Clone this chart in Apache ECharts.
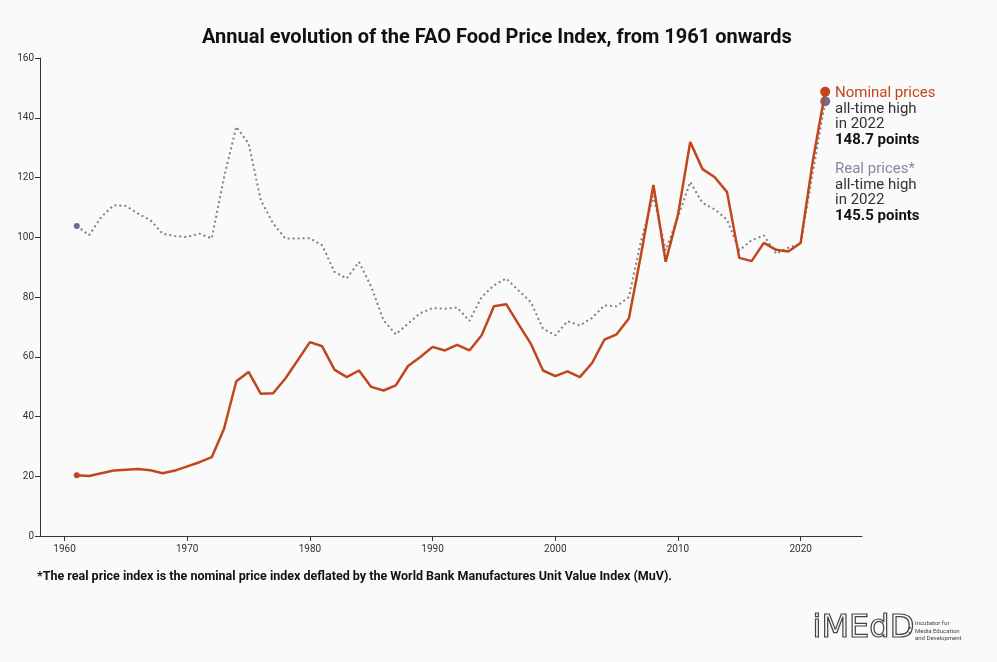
<!DOCTYPE html>
<html lang="en">
<head>
    <meta charset="UTF-8">
    <title>FAO Food Price Index</title>
    <script src="https://cdn.jsdelivr.net/npm/echarts@6.0.0/dist/echarts.min.js"></script>
    <style>
        html, body { margin: 0; padding: 0; background: #fafafa; }
    </style>
</head>
<body>
    <div id="chart" style="width: 997px; height: 662px;"></div>

    <script>
        // years 1961 - 2022
        const years = [];
        for (let y = 1961; y <= 2022; y++) years.push(y);

        // nominal index
        const nominal = [
            20.3, 20.1, 21.0, 21.9, 22.2, 22.4, 22.0, 21.0, 21.9, 23.3,
            24.7, 26.4, 35.9, 51.8, 54.9, 47.6, 47.8, 52.7, 58.8, 64.9,
            63.5, 55.7, 53.2, 55.4, 49.9, 48.7, 50.4, 56.9, 59.9, 63.3,
            62.1, 64.0, 62.1, 67.2, 76.9, 77.6, 70.9, 64.4, 55.4, 53.5,
            55.1, 53.2, 57.9, 65.7, 67.5, 72.8, 94.5, 117.5, 91.8, 107.5,
            131.9, 122.8, 120.1, 115.1, 93.1, 92.0, 98.1, 95.8, 95.2, 98.1,
            125.8, 148.7
        ];

        // real index (deflated by MUV)
        const real = [
            103.8, 100.7, 106.8, 110.7, 110.5, 107.9, 105.7, 101.2, 100.4, 100.1,
            101.2, 99.6, 120.0, 137.0, 131.4, 112.4, 104.6, 99.6, 99.6, 99.7,
            97.3, 88.4, 86.2, 91.7, 83.4, 72.2, 67.5, 71.1, 74.6, 76.3,
            76.1, 76.5, 72.0, 80.0, 83.9, 86.2, 82.2, 78.3, 69.4, 67.2,
            71.9, 70.5, 73.0, 77.2, 76.9, 80.0, 99.0, 113.8, 95.6, 106.8,
            118.5, 111.5, 109.3, 105.9, 95.6, 99.0, 100.6, 94.5, 96.5, 97.9,
            122.0, 145.5
        ];

        const xTicks = [1960, 1970, 1980, 1990, 2000, 2010, 2020];

        const nominalColor = '#c0461b';
        const realColor = '#6f6b92';
        const last = years.length - 1;

        const endSize = (val, params) => params.dataIndex === 0 ? 6 : (params.dataIndex === last ? 10 : 0);

        const chart = echarts.init(document.getElementById('chart'));

        const textStyle = { fontFamily: 'Roboto', fontSize: 15, fill: '#333' };

        const option = {
            backgroundColor: '#fafafa',
            animation: false,
            title: {
                text: 'Annual evolution of the FAO Food Price Index, from 1961 onwards',
                left: 197,
                top: 23,
                textStyle: { fontFamily: 'Roboto', fontSize: 20, fontWeight: 'bold', color: '#111' }
            },
            grid: { left: 40, right: 135, top: 58, bottom: 126 },
            xAxis: {
                type: 'value',
                min: 1958,
                max: 2025,
                splitLine: { show: false },
                axisLine: { lineStyle: { color: '#333' } },
                axisTick: { customValues: xTicks, length: 5, lineStyle: { color: '#333' } },
                axisLabel: {
                    customValues: xTicks,
                    formatter: v => String(v),
                    fontFamily: 'Roboto',
                    fontSize: 10,
                    color: '#333',
                    margin: 8
                }
            },
            yAxis: {
                type: 'value',
                min: 0,
                max: 160,
                interval: 20,
                splitLine: { show: false },
                axisLine: { show: true, lineStyle: { color: '#333' } },
                axisTick: { show: true, length: 5, lineStyle: { color: '#333' } },
                axisLabel: { fontFamily: 'Roboto', fontSize: 10, color: '#333', margin: 6 }
            },
            series: [
                {
                    name: 'Real prices',
                    type: 'line',
                    data: years.map((y, i) => [y, real[i]]),
                    symbol: 'circle',
                    symbolSize: endSize,
                    itemStyle: { color: realColor },
                    lineStyle: { color: '#808080', width: 2, type: [2, 3] },
                    z: 2
                },
                {
                    name: 'Nominal prices',
                    type: 'line',
                    data: years.map((y, i) => [y, nominal[i]]),
                    symbol: 'circle',
                    symbolSize: endSize,
                    itemStyle: { color: nominalColor },
                    lineStyle: { color: nominalColor, width: 2.5 },
                    z: 3
                }
            ],
            graphic: [
                { type: 'text', left: 835, top: 86, style: Object.assign({}, textStyle, { text: 'Nominal prices', fill: nominalColor }) },
                { type: 'text', left: 835, top: 101.5, style: Object.assign({}, textStyle, { text: 'all-time high' }) },
                { type: 'text', left: 835, top: 117, style: Object.assign({}, textStyle, { text: 'in 2022' }) },
                { type: 'text', left: 835, top: 132.5, style: Object.assign({}, textStyle, { text: '148.7 points', fontWeight: 'bold', fill: '#111' }) },
                { type: 'text', left: 835, top: 162, style: Object.assign({}, textStyle, { text: 'Real prices*', fill: '#8c84a6' }) },
                { type: 'text', left: 835, top: 177.5, style: Object.assign({}, textStyle, { text: 'all-time high' }) },
                { type: 'text', left: 835, top: 193, style: Object.assign({}, textStyle, { text: 'in 2022' }) },
                { type: 'text', left: 835, top: 208.5, style: Object.assign({}, textStyle, { text: '145.5 points', fontWeight: 'bold', fill: '#111' }) },
                {
                    type: 'text', left: 37, top: 570,
                    style: { text: '*The real price index is the nominal price index deflated by the World Bank Manufactures Unit Value Index (MuV).', fontFamily: 'Roboto', fontSize: 12.5, fontWeight: 'bold', fill: '#111' }
                },
                // logo
                {
                    type: 'text', left: 812, top: 612,
                    style: { text: 'iMEdD', fontFamily: 'DejaVu Sans', fontSize: 32, fill: 'none', stroke: '#444', lineWidth: 1.2 }
                },
                { type: 'text', left: 908, top: 624, style: { text: ':', fontFamily: 'Roboto', fontSize: 13, fontWeight: 'bold', fill: '#444' } },
                {
                    type: 'text', left: 915, top: 620,
                    style: { text: 'Incubator for\nMedia Education\nand Development', fontFamily: 'Roboto', fontSize: 6, lineHeight: 7.5, fill: '#444' }
                }
            ]
        };

        chart.setOption(option);
    </script>
</body>
</html>
